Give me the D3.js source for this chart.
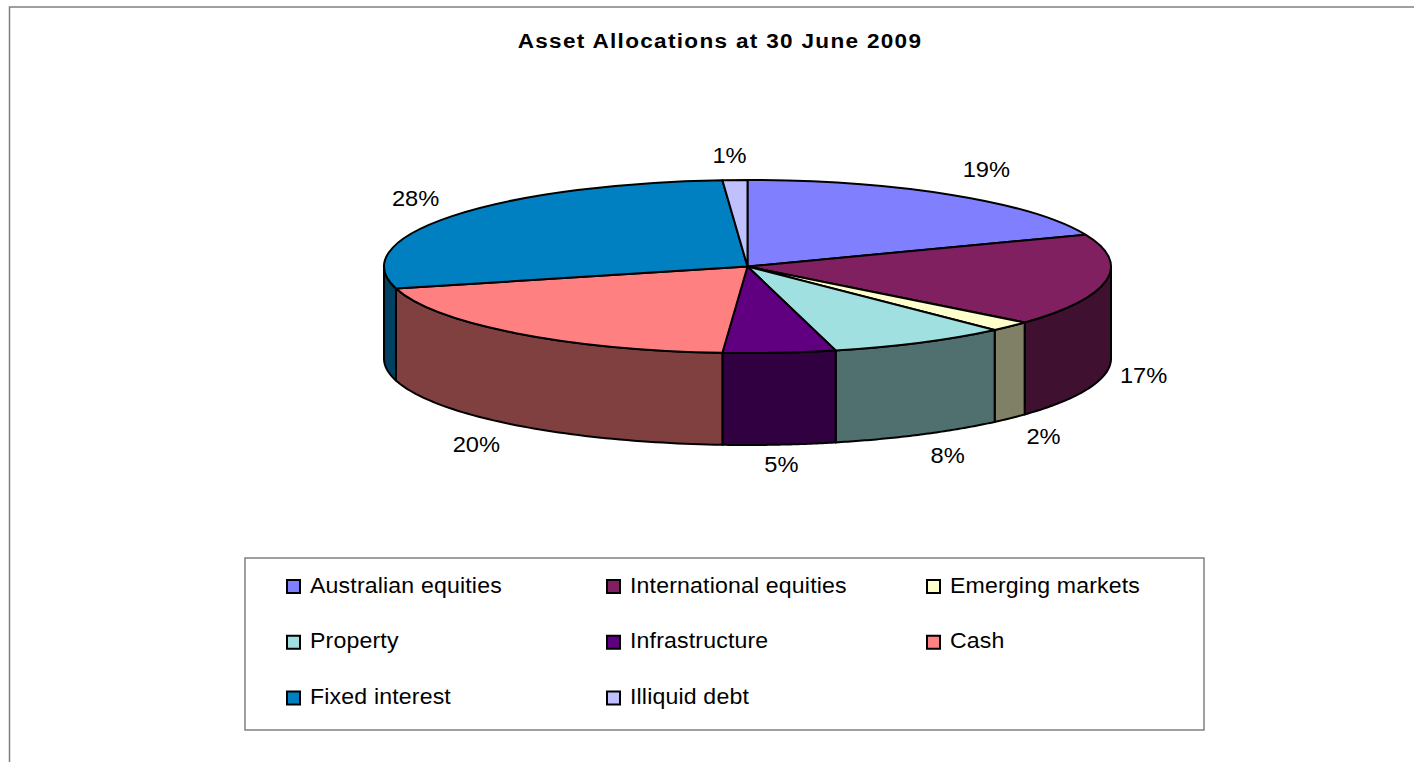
<!doctype html>
<html>
<meta charset="utf-8">
<style>
body { margin: 0; padding: 0; background: #fff; }
svg { display: block; }
text { font-family: 'Liberation Sans', Arial, sans-serif; fill: #000; }
</style>
<body>
<svg width="1414" height="762"></svg>
<script src="https://cdnjs.cloudflare.com/ajax/libs/d3/7.8.5/d3.min.js"></script>
<script>

var categories = ["Australian equities", "International equities", "Emerging markets", "Property",
                  "Infrastructure", "Cash", "Fixed interest", "Illiquid debt"];
// labels round these to whole percents
var values = [19.0, 17.2, 1.9, 8.0, 5.0, 19.8, 28.0, 1.1];
var colors = ["#8080FF", "#802060", "#FFFFCC", "#A0E0E0", "#600080", "#FF8080", "#0080C0", "#C0C0FF"];
var title = "Asset Allocations at 30 June 2009";

var svg = d3.select("svg");
var tau = 2 * Math.PI;

// pie is a flattened circle with a wall under its front half
var cx = 747.5, cy = 266.5, rx = 363.5, ry = 86.5, depth = 92;
var xs = d3.scaleLinear().domain([-1, 1]).range([cx - rx, cx + rx]);
var ys = d3.scaleLinear().domain([-1, 1]).range([cy - ry, cy + ry]);

// outer chart frame, only left and top show in the picture
svg.append("path")
    .attr("d", "M9.5,762V7H1414")
    .attr("fill", "none")
    .attr("stroke", "#808080")
    .attr("stroke-width", 1.5);

svg.append("text")
    .attr("text-anchor", "middle")
    .attr("transform", "translate(720,47.5) scale(1.1,1)")
    .style("font-size", "20.5px")
    .style("font-weight", "bold")
    .style("letter-spacing", "1.2px")
    .text(title);

var slices = d3.pie().sort(null)(values);

var px = function(a) { return xs(Math.sin(a)); };
var py = function(a) { return ys(-Math.cos(a)); };

// walls first, clipped to the front half (a from tau/4 to 3tau/4)
var wall = d3.line();
slices.forEach(function(s, i) {
  var a0 = Math.max(s.startAngle, tau / 4), a1 = Math.min(s.endAngle, 3 * tau / 4);
  if (a1 <= a0) return;
  var steps = d3.range(0, 61).map(function(k) { return a0 + (a1 - a0) * k / 60; });
  var pts = steps.map(function(a) { return [px(a), py(a)]; })
    .concat(steps.slice().reverse().map(function(a) { return [px(a), py(a) + depth]; }));
  var c = d3.rgb(colors[i]);
  svg.append("path")
      .attr("d", wall(pts) + "Z")
      .attr("fill", d3.rgb(c.r / 2, c.g / 2, c.b / 2))
      .attr("stroke", "#000")
      .attr("stroke-width", 2)
      .attr("stroke-linejoin", "round");
});

// top face
var arc = d3.arc().innerRadius(0).outerRadius(rx);
svg.append("g")
    .attr("transform", "translate(" + cx + "," + cy + ") scale(1," + (ry / rx) + ")")
  .selectAll("path")
  .data(slices)
  .join("path")
    .attr("d", arc)
    .attr("fill", function(d, i) { return colors[i]; })
    .attr("stroke", "#000")
    .attr("stroke-width", 2)
    .attr("stroke-linejoin", "round")
    .attr("vector-effect", "non-scaling-stroke");

// percent labels sit just outside the rim, small nudges per label
var nudgeX = [12, -2, 4.5, 8, -1.5, -14, -4, -4];
var nudgeY = [-5, -1, 1, -1, -5, 0, -3, 0];
svg.selectAll(".pct")
  .data(slices)
  .join("text")
    .attr("class", "pct")
    .attr("text-anchor", "middle")
    .style("font-size", "21.5px")
    .attr("transform", function(d, i) {
      var a = (d.startAngle + d.endAngle) / 2;
      var front = Math.cos(a) < 0 ? depth : 0;
      var x = px(a) + 40 * Math.sin(a) + nudgeX[i];
      var y = py(a) + front - 25 * Math.cos(a) + 7.5 + nudgeY[i];
      return "translate(" + x + "," + y + ") scale(1.1,1)";
    })
    .text(function(d) { return d3.format(".0f")(d.value) + "%"; });

// legend
svg.append("rect")
    .attr("x", 245).attr("y", 558)
    .attr("width", 959).attr("height", 172)
    .attr("fill", "#fff")
    .attr("stroke", "#808080")
    .attr("stroke-width", 1.5);

var legendX = d3.scalePoint().domain([0, 1, 2]).range([287, 927]);
var legendY = d3.scalePoint().domain([0, 1, 2]).range([586.5, 698]);

var item = svg.selectAll(".item")
  .data(categories)
  .join("g")
    .attr("class", "item")
    .attr("transform", function(d, i) {
      return "translate(" + legendX(i % 3) + "," + legendY(Math.floor(i / 3)) + ")";
    });

item.append("rect")
    .attr("x", 0).attr("y", -6.5)
    .attr("width", 13).attr("height", 13)
    .attr("fill", function(d, i) { return colors[i]; })
    .attr("stroke", "#000")
    .attr("stroke-width", 2);

item.append("text")
    .attr("transform", "translate(23,6) scale(1.075,1)")
    .style("font-size", "21.5px")
    .style("letter-spacing", "0.15px")
    .text(function(d) { return d; });

</script>
</body>
</html>
